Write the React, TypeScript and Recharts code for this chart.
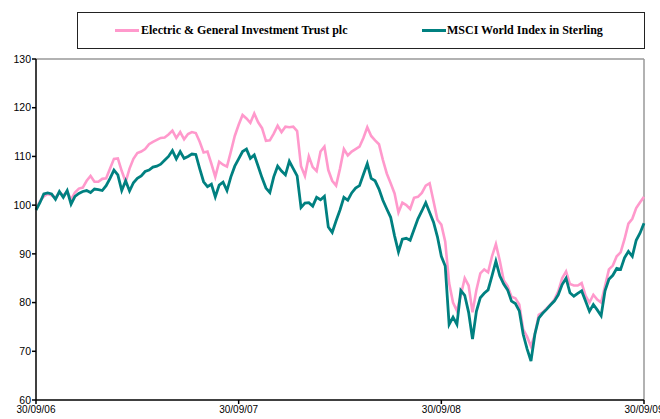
import React from 'react';
import { LineChart, Line, XAxis, YAxis, ReferenceLine } from 'recharts';

// weekly index values, 30/09/06 = 100
const electricGeneral = [
  99.2, 100.8, 101.8, 102.3, 102.0, 101.5, 102.6, 102.0, 102.8, 101.2,
  102.6, 103.4, 103.6, 105.0, 106.0, 104.8, 104.8, 105.4, 105.5, 107.5,
  109.5, 109.6, 107.0, 104.8, 107.5, 109.5, 110.7, 111.0, 111.5, 112.5,
  113.0, 113.4, 113.8, 113.9, 114.5, 115.3, 113.8, 115.0, 113.5, 114.6,
  115.0, 114.8, 113.0, 110.8, 111.0, 108.5, 105.8, 108.9, 108.3, 107.9,
  111.0, 114.2, 116.5, 118.5, 117.8, 116.9, 118.8, 117.0, 115.8, 113.2,
  113.3, 114.7, 116.3, 115.0, 116.1, 116.0, 116.1, 115.2, 108.0, 106.0,
  110.0, 107.8, 107.0, 111.0, 112.0, 107.2, 105.0, 104.0, 107.5, 111.5,
  110.2, 111.0, 111.5, 112.0, 113.8, 116.0, 114.2, 113.3, 112.5, 109.3,
  106.5, 104.5, 102.4, 98.5, 100.5, 100.0, 99.2, 101.5, 101.7, 102.5,
  104.0, 104.5, 100.8, 97.0, 96.0, 92.5, 84.0, 80.0, 78.3, 81.5,
  85.0, 83.5, 78.0, 82.6, 86.0, 86.8, 86.2, 89.5, 92.0, 88.6,
  84.6, 83.4, 81.2, 80.9, 79.6, 74.5, 73.0, 71.0, 73.5, 77.5,
  78.0, 78.8, 79.6, 80.6, 82.3, 85.0, 86.4, 83.8, 83.5, 83.5,
  84.0, 81.4, 80.0, 81.6, 80.6, 80.0, 83.4, 86.8, 87.6, 89.5,
  90.3, 93.0, 96.2, 97.2, 99.4, 100.6, 101.7,
];

const msciWorld = [
  99.0, 100.5, 102.3, 102.5, 102.3, 101.2, 102.8, 101.6, 103.0, 100.2,
  101.8, 102.4, 102.8, 103.0, 102.6, 103.3, 103.2, 103.0, 104.0, 105.5,
  107.2, 106.2, 103.0, 105.0, 102.9, 104.6, 105.5, 106.0, 106.9, 107.2,
  107.8, 108.0, 108.4, 109.2, 110.0, 111.2, 109.5, 111.0, 109.6, 110.0,
  110.5, 110.4, 107.5, 104.8, 103.8, 104.3, 101.7, 104.1, 104.7, 103.0,
  105.8, 108.0, 109.5, 111.0, 111.5, 109.6, 110.3, 108.0, 105.6, 103.5,
  102.6, 105.8, 108.0, 107.0, 106.2, 109.0, 107.5, 106.0, 99.5, 100.4,
  100.5, 99.8, 101.6, 101.1, 101.8, 95.5, 94.4, 96.8, 99.0, 101.6,
  101.0, 102.5, 103.5, 104.0, 106.3, 108.5, 105.5, 105.0, 103.3, 101.0,
  99.2, 97.5, 93.7, 90.4, 93.0, 93.2, 92.8, 95.0, 97.2, 98.8,
  100.5, 98.5, 96.5, 93.5, 89.5, 87.5, 75.5, 77.0, 75.5, 82.5,
  81.5, 78.0, 72.5, 78.2, 81.0, 81.9, 82.6, 85.5, 88.5, 85.5,
  83.8, 82.6, 80.3, 79.8, 78.3, 73.5, 70.5, 68.0, 73.5, 76.8,
  77.8, 78.6, 79.5, 80.3, 81.6, 83.7, 85.0, 82.0, 81.3, 81.9,
  82.4, 80.3, 78.2, 79.6, 78.5, 77.3, 82.4, 84.8, 85.6, 87.0,
  86.8, 89.2, 90.5, 89.5, 92.8, 94.3, 96.3,
];

const tickWeeks = [0, 52, 104, 156];
const tickLabels = ['30/09/06', '30/09/07', '30/09/08', '30/09/09'];
const yTicks = [60, 70, 80, 90, 100, 110, 120, 130];

const pink = '#FF99CC';
const teal = '#008080';

const data = electricGeneral.map((v, i) => ({ week: i, eg: v, msci: msciWorld[i] }));

const axisFont = { fontFamily: 'Liberation Sans, Arial, sans-serif', fill: '#000' };

const LegendBox = () => (
  <div
    style={{
      position: 'absolute',
      left: 77,
      top: 12,
      width: 566,
      height: 35,
      border: '1px solid #222',
      fontFamily: 'Liberation Serif, Times New Roman, serif',
      fontWeight: 'bold',
      fontSize: 12,
      color: '#000',
    }}
  >
    <div style={{ position: 'absolute', left: 37, top: 16, width: 24, height: 3, background: pink }} />
    <div style={{ position: 'absolute', left: 63, top: 10, whiteSpace: 'nowrap' }}>
      Electric &amp; General Investment Trust plc
    </div>
    <div style={{ position: 'absolute', left: 344, top: 16, width: 24, height: 3, background: teal }} />
    <div style={{ position: 'absolute', left: 369, top: 10, whiteSpace: 'nowrap' }}>
      MSCI World Index in Sterling
    </div>
  </div>
);

export default function App() {
  return (
    <div style={{ position: 'absolute', left: 0, top: 0, width: 660, height: 419, background: '#fff' }}>
      <LineChart width={660} height={419} data={data} margin={{ top: 59, right: 16, bottom: 0, left: 0 }}>
        <XAxis
          dataKey="week"
          type="number"
          domain={[0, 156]}
          ticks={tickWeeks}
          tickFormatter={(w: number) => tickLabels[tickWeeks.indexOf(w)]}
          height={19}
          tickSize={4}
          tickMargin={2}
          stroke="#000"
          strokeWidth={1.5}
          tick={{ ...axisFont, fontSize: 10 }}
          interval={0}
        />
        <YAxis
          type="number"
          domain={[60, 130]}
          ticks={yTicks}
          width={36}
          tickSize={4}
          tickMargin={1}
          stroke="#000"
          strokeWidth={1.5}
          tick={{ ...axisFont, fontSize: 10.5 }}
          interval={0}
        />
        <ReferenceLine y={130} stroke="#999" strokeWidth={1.5} />
        <ReferenceLine x={156} stroke="#999" strokeWidth={1.5} />
        <Line
          type="linear"
          dataKey="eg"
          stroke={pink}
          strokeWidth={2.6}
          dot={false}
          isAnimationActive={false}
        />
        <Line
          type="linear"
          dataKey="msci"
          stroke={teal}
          strokeWidth={2.8}
          dot={false}
          isAnimationActive={false}
        />
      </LineChart>
      <LegendBox />
    </div>
  );
}
